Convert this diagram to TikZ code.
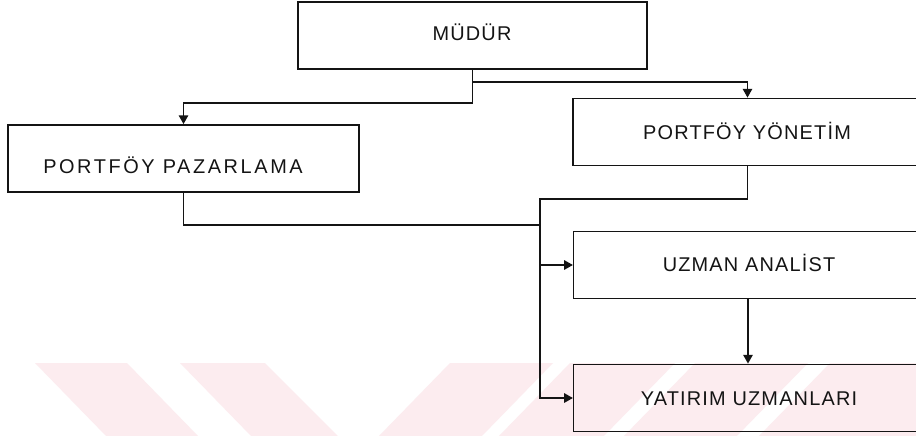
\documentclass[tikz,border=0pt]{standalone}
\usepackage{fontspec}
\setmainfont{Liberation Sans}
\newfontfamily\boxfont[LetterSpace=6]{Liberation Sans}
\newfontfamily\wideboxfont[LetterSpace=13]{Liberation Sans}
\usetikzlibrary{arrows.meta}
\definecolor{wmpink}{RGB}{252,236,239}
\definecolor{ink}{RGB}{20,20,20}
\tikzset{
  unitbox/.style={draw=ink, line width=0.045cm, rectangle, inner sep=0pt,
    minimum width=10.46cm, minimum height=2.02cm},
  boxlabel/.style={anchor=base, inner sep=0pt, text=ink,
    font=\boxfont\fontsize{17}{20}\selectfont},
  wire/.style={draw=ink, line width=0.045cm},
  arr/.style={wire, -{Triangle[length=0.26cm, width=0.28cm]}},
  stripe/.style={fill=wmpink, draw=none}
}
\begin{document}
\begin{tikzpicture}[x=0.03cm, y=-0.03cm]
  \useasboundingbox (0,0) rectangle (916,435);
  \clip (0,0) rectangle (916,435);
  \fill[white] (0,0) rectangle (916,435);

  % faint watermark stripes along the lower edge
  \fill[stripe] (35,363) -- (127,363) -- (199,437) -- (107,437) -- cycle;
  \fill[stripe] (180,363) -- (265,363) -- (339,437) -- (252,437) -- cycle;
  \fill[stripe] (450,363) -- (553,363) -- (481,437) -- (378,437) -- cycle;
  \fill[stripe] (570,363) -- (675,363) -- (603,437) -- (498,437) -- cycle;
  \fill[stripe] (695,363) -- (808,363) -- (736,437) -- (623,437) -- cycle;
  \fill[stripe] (830,363) -- (930,363) -- (930,437) -- (758,437) -- cycle;

  % boxes
  \node[unitbox] (mudur) at (472.5,35.5) {};
  \node[unitbox, minimum width=10.53cm] (pp) at (183.5,158.5) {};
  \node[unitbox] (py) at (747.5,132) {};
  \node[unitbox] (ua) at (748,265) {};
  \node[unitbox] (yu) at (748,398) {};

  % labels
  \node[boxlabel] (tmudur) at (472,40) {MÜDÜR};
  \node[boxlabel, font=\wideboxfont\fontsize{17}{20}\selectfont] (tpp) at (173,173) {PORTFÖY PAZARLAMA};
  \node[boxlabel] (tpy) at (747,139) {PORTFÖY YÖNETİM};
  \node[boxlabel] (tua) at (749,271.5) {UZMAN ANALİST};
  \node[boxlabel] (tyu) at (749,405) {YATIRIM UZMANLARI};

  % junction points
  \coordinate (mlow) at (472.5,103);
  \coordinate (mhigh) at (472.5,82);
  \coordinate (bustop) at (540,199);
  \coordinate (busin) at (540,225);
  \coordinate (busua) at (540,265);

  % connectors
  \draw[arr] (mudur.south) -- (mlow) -| (pp.north);
  \draw[arr] (mhigh) -| (py.north);
  \draw[arr] (py.south) |- (bustop) |- (yu.west);
  \draw[wire] (pp.south) |- (busin);
  \draw[arr] (busua) -- (ua.west);
  \draw[arr] (ua.south) -- (yu.north);
\end{tikzpicture}
\end{document}
